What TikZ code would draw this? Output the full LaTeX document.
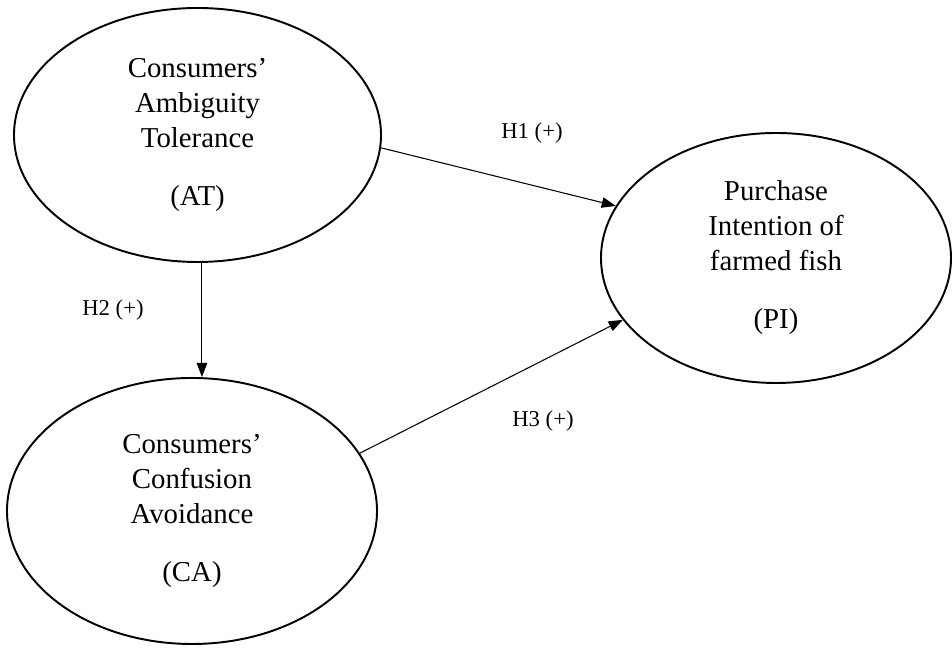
\documentclass[tikz,border=0pt]{standalone}
\usepackage{fontspec}
\setmainfont{Liberation Serif}
\usetikzlibrary{shapes.geometric,arrows.meta}
\begin{document}
\begin{tikzpicture}[>={Triangle[length=8pt,width=6pt]},
	construct/.style={draw, ellipse, line width=1.1pt, inner sep=0pt, align=center, font=\fontsize{16.4}{19.9}\selectfont},
	hyp/.style={font=\fontsize{12.9}{15}\selectfont},
	link/.style={->, line width=0.6pt}]
	\useasboundingbox (0,0) rectangle (19.04,13);
	\node[construct, minimum width=7.34cm, minimum height=5.08cm] (AT) at (3.95,10.3) {Consumers'\\Ambiguity\\Tolerance\\[0.46cm](AT)};
	\node[construct, minimum width=7.4cm, minimum height=5.32cm] (CA) at (3.84,2.78) {Consumers'\\Confusion\\Avoidance\\[0.46cm](CA)};
	\node[construct, minimum width=7cm, minimum height=5cm] (PI) at (15.52,7.84) {Purchase\\Intention of\\farmed fish\\[0.46cm](PI)};
	\draw[link] (AT.-4) -- (PI.162);
	\draw[link] (AT.-88) -- (AT.-88 |- CA.north);
	\draw[link] (CA.19) -- (PI.202);
	\node[hyp] (h1) at (10.64,10.34) {H1 (+)};
	\node[hyp] (h2) at (2.26,6.8) {H2 (+)};
	\node[hyp] (h3) at (10.86,4.58) {H3 (+)};
\end{tikzpicture}
\end{document}
